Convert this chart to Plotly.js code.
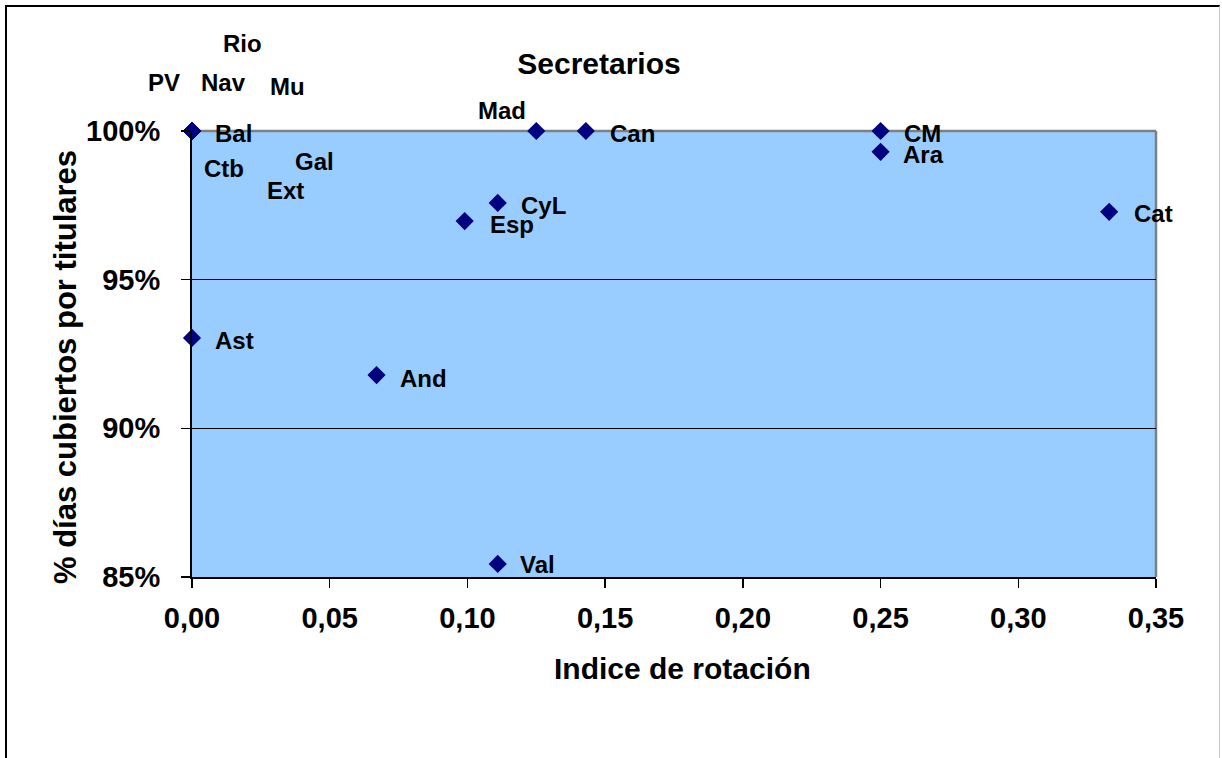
<!DOCTYPE html>
<html>
<head>
<meta charset="utf-8">
<script src="https://cdn.plot.ly/plotly-3.0.1.min.js"></script>
<style>
  html, body { margin: 0; padding: 0; background: #fff; }
  #wrap { position: relative; width: 1222px; height: 758px; overflow: hidden; }
  #chart { width: 1222px; height: 758px; }
  #frame { position: absolute; left: 5px; top: 5px; width: 1212px; height: 770px;
           border-left: 2px solid #000; border-top: 2px solid #000; border-right: 1px solid #c8c8c8;
           pointer-events: none; }
</style>
</head>
<body>
<div id="wrap">
  <div id="chart"></div>
  <div id="frame"></div>
</div>
<script>
// Data
const regions = ["PV", "Nav", "Rio", "Mu", "Bal", "Ctb", "Gal", "Ext", "Mad", "Can", "CM", "Ara", "Cat", "CyL", "Esp", "Ast", "And", "Val"];
const rotationIndex = [0, 0, 0, 0, 0, 0, 0, 0, 0.125, 0.143, 0.25, 0.25, 0.333, 0.111, 0.099, 0, 0.067, 0.111];
const coveredDays = [1.0, 1.0, 1.0, 1.0, 1.0, 1.0, 1.0, 1.0, 1.0, 1.0, 1.0, 0.993, 0.9728, 0.9758, 0.9697, 0.9304, 0.9179, 0.8544];
const xTickVals = [0, 0.05, 0.10, 0.15, 0.20, 0.25, 0.30, 0.35];
const yTickVals = [0.85, 0.90, 0.95, 1.00];

// Label placement (pixel offsets from each marker: [dx, dy up])
const labelOffsets = {
  PV: [-28, 49], Nav: [31, 49], Rio: [50, 88], Mu: [95, 45],
  Bal: [41, -2], Ctb: [32, -37], Gal: [122, -30], Ext: [93, -59],
  Mad: [-34, 21], Can: [47, -2], CM: [42, -2], Ara: [43, -3],
  Cat: [44, -2], CyL: [46, -3], Esp: [47, -3], Ast: [42, -3],
  And: [47, -3], Val: [40, -1]
};

const FONT = "Liberation Sans, Arial, sans-serif";

const trace = {
  type: "scatter",
  mode: "markers",
  x: rotationIndex,
  y: coveredDays,
  text: regions,
  hoverinfo: "text+x+y",
  cliponaxis: false,
  marker: { symbol: "diamond", size: 14, color: "#000080", line: { width: 0 } }
};

const annotations = regions.map((r, i) => ({
  x: rotationIndex[i], y: coveredDays[i], xref: "x", yref: "y",
  text: r, showarrow: false, xanchor: "center", yanchor: "middle",
  xshift: labelOffsets[r][0], yshift: labelOffsets[r][1],
  font: { family: FONT, size: 24, color: "#000", weight: "bold" }
}));

// Axis titles as annotations (placed like the reference)
annotations.push({
  text: "<b>Indice de rotación</b>", showarrow: false,
  xref: "paper", yref: "paper", x: (682 - 192) / 964, y: -(668 - 577) / 446,
  xanchor: "center", yanchor: "middle",
  font: { family: FONT, size: 30, color: "#000" }
});
annotations.push({
  text: "<b>% días cubiertos por titulares</b>", showarrow: false, textangle: -90,
  xref: "paper", yref: "paper", x: (65 - 192) / 964, y: 1 - (367 - 131) / 446,
  xanchor: "center", yanchor: "middle",
  font: { family: FONT, size: 31, color: "#000" }
});

const layout = {
  width: 1222, height: 758,
  margin: { l: 192, r: 66, t: 131, b: 181 },
  paper_bgcolor: "#ffffff",
  plot_bgcolor: "#99CCFF",
  separators: ",.",
  showlegend: false,
  font: { family: FONT, color: "#000" },
  title: {
    text: "<b>Secretarios</b>",
    font: { family: FONT, size: 30, color: "#000" },
    xref: "container", x: 599 / 1222, xanchor: "center",
    yref: "container", y: 1 - 63 / 758, yanchor: "middle"
  },
  xaxis: {
    range: [0, 0.35],
    tickvals: xTickVals,
    tickformat: ".2f",
    ticks: "outside", ticklen: 9, tickwidth: 1.5, tickcolor: "#000",
    showline: true, linecolor: "#000", linewidth: 2,
    showgrid: false, zeroline: false,
    tickfont: { family: FONT, size: 29, color: "#000", weight: "bold" },
    ticklabelstandoff: 5,
    automargin: false
  },
  yaxis: {
    range: [0.85, 1.0],
    tickvals: yTickVals,
    tickformat: ".0%",
    ticks: "outside", ticklen: 9, tickwidth: 1.5, tickcolor: "#000",
    showline: true, linecolor: "#000", linewidth: 2,
    showgrid: true, gridcolor: "#000", gridwidth: 1,
    zeroline: false,
    tickfont: { family: FONT, size: 29, color: "#000", weight: "bold" },
    ticklabelstandoff: 15,
    automargin: false
  },
  shapes: [
    { type: "line", xref: "paper", yref: "paper", x0: 0, x1: 1, y0: 1, y1: 1, layer: "below", line: { color: "#808080", width: 2.5 } },
    { type: "line", xref: "paper", yref: "paper", x0: 1, x1: 1, y0: 0, y1: 1, layer: "below", line: { color: "#808080", width: 2.5 } }
  ],
  annotations: annotations
};

Plotly.newPlot("chart", [trace], layout, { displayModeBar: false, staticPlot: true });
</script>
</body>
</html>
